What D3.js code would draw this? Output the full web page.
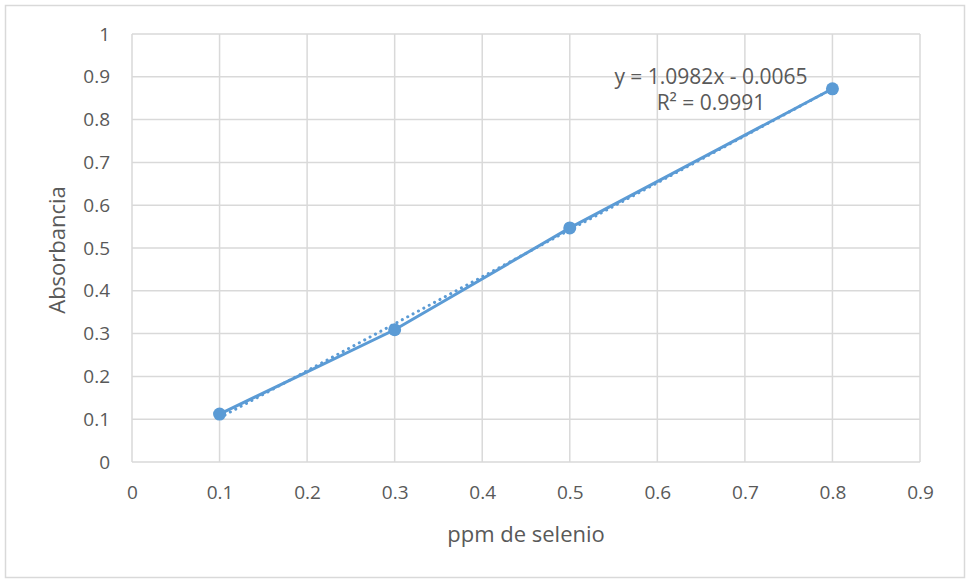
<!DOCTYPE html>
<html>
<head>
<meta charset="utf-8">
<script src="https://cdn.jsdelivr.net/npm/d3@7"></script>
<style>
  body { margin: 0; background: #fff; }
  text { font-family: "Open Sans", "Liberation Sans", sans-serif; fill: #595959; }
</style>
</head>
<body>
<div id="chart"></div>
<script>
// data
var ppm = [0.1, 0.3, 0.5, 0.8];
var absorbancia = [0.112, 0.309, 0.547, 0.872];
var xTicks = [0, 0.1, 0.2, 0.3, 0.4, 0.5, 0.6, 0.7, 0.8, 0.9];
var yTicks = [0, 0.1, 0.2, 0.3, 0.4, 0.5, 0.6, 0.7, 0.8, 0.9, 1];
var slope = 1.0982, intercept = -0.0065;
var eqText = ["y = 1.0982x - 0.0065", "R² = 0.9991"];

var width = 969, height = 580;
var margin = {left: 132, right: 49, top: 34, bottom: 118};

var svg = d3.select("#chart").append("svg")
    .attr("width", width)
    .attr("height", height);

// chart border
svg.append("rect")
    .attr("x", 5.5).attr("y", 5.5)
    .attr("width", 959).attr("height", 572)
    .attr("fill", "#fff")
    .attr("stroke", "#d9d9d9")
    .attr("stroke-width", 1.5);

var x = d3.scaleLinear().domain([0, 0.9]).range([margin.left, width - margin.right]);
var y = d3.scaleLinear().domain([0, 1]).range([height - margin.bottom, margin.top]);

// gridlines
svg.append("g").selectAll("line")
    .data(xTicks).enter().append("line")
    .attr("x1", d => x(d)).attr("x2", d => x(d))
    .attr("y1", y(0)).attr("y2", y(1))
    .attr("stroke", "#d9d9d9").attr("stroke-width", 1.5);

svg.append("g").selectAll("line")
    .data(yTicks).enter().append("line")
    .attr("x1", x(0)).attr("x2", x(0.9))
    .attr("y1", d => y(d)).attr("y2", d => y(d))
    .attr("stroke", "#d9d9d9").attr("stroke-width", 1.5);

// tick labels
var xAxis = svg.append("g")
    .attr("transform", "translate(0," + y(0) + ")")
    .call(d3.axisBottom(x).tickValues(xTicks).tickSize(0).tickPadding(24).tickFormat(d3.format("")));
var yAxis = svg.append("g")
    .attr("transform", "translate(" + x(0) + ",0)")
    .call(d3.axisLeft(y).tickValues(yTicks).tickSize(0).tickPadding(22).tickFormat(d3.format("")));

[xAxis, yAxis].forEach(function(a){
    a.select(".domain").remove();
    a.selectAll("text")
     .style("font-size", "19px")
     .style("font-family", "'Open Sans', sans-serif")
     .attr("fill", "#595959");
});

// axis titles
svg.append("text")
    .attr("x", (x(0) + x(0.9)) / 2)
    .attr("y", 542)
    .attr("text-anchor", "middle")
    .style("font-size", "22px")
    .text("ppm de selenio");

svg.append("text")
    .attr("transform", "translate(65," + (y(0.5) + 2) + ") rotate(-90)")
    .attr("text-anchor", "middle")
    .style("font-size", "22px")
    .text("Absorbancia");

// trendline (dotted)
var xmin = d3.min(ppm), xmax = d3.max(ppm);
svg.append("line")
    .attr("x1", x(xmin)).attr("y1", y(slope * xmin + intercept))
    .attr("x2", x(xmax)).attr("y2", y(slope * xmax + intercept))
    .attr("stroke", "#5b9bd5")
    .attr("stroke-width", 3)
    .attr("stroke-linecap", "round")
    .attr("stroke-dasharray", "0.1 6");

// series line
var line = d3.line().x((d, i) => x(ppm[i])).y(d => y(d));
svg.append("path")
    .datum(absorbancia)
    .attr("d", line)
    .attr("fill", "none")
    .attr("stroke", "#5b9bd5")
    .attr("stroke-width", 3);

svg.selectAll("circle")
    .data(absorbancia).enter().append("circle")
    .attr("cx", (d, i) => x(ppm[i]))
    .attr("cy", d => y(d))
    .attr("r", 6.5)
    .attr("fill", "#5b9bd5");

// equation label
svg.append("g").selectAll("text")
    .data(eqText).enter().append("text")
    .attr("x", 711)
    .attr("y", (d, i) => 84 + i * 26)
    .attr("text-anchor", "middle")
    .style("font-size", "21px")
    .text(d => d);
</script>
</body>
</html>
